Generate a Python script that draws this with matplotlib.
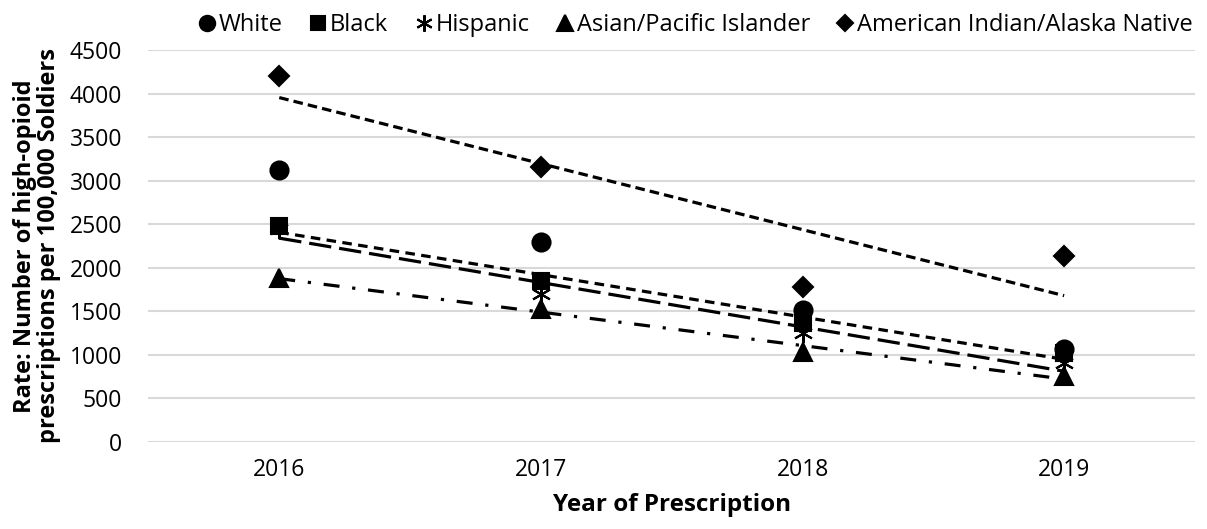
import numpy as np
import matplotlib.pyplot as plt

plt.rcParams['font.family'] = ['Open Sans', 'DejaVu Sans']

years = [2016, 2017, 2018, 2019]
white = [3120, 2300, 1510, 1070]
black = [2480, 1848, 1360, 1020]
hispanic = [2450, 1700, 1250, 900]
asian_pi = [1880, 1520, 1030, 760]
aian = [4200, 3160, 1780, 2130]

fig, ax = plt.subplots(figsize=(12.07, 5.29), dpi=100)
fig.subplots_adjust(left=0.123, right=0.99, top=0.905, bottom=0.165)

x = np.arange(len(years))
series = [
    ('White', white, 'o', 13, None),
    ('Black', black, 's', 12, (0, (3, 2))),
    ('Hispanic', hispanic, (6, 2, 0), 14, (0, (7, 2.5))),
    ('Asian/Pacific Islander', asian_pi, '^', 13, (0, (5, 4, 1, 4))),
    ('American Indian/Alaska Native', aian, 'D', 10, (0, (3, 1.6))),
]

for name, vals, mk, ms, ls in series:
    ax.plot(x, vals, linestyle='none', marker=mk, markersize=ms, color='black',
            markeredgewidth=1.5, label=name, zorder=4)
    if ls is not None:
        # linear trendline over the four years
        m, b = np.polyfit(x, vals, 1)
        ax.plot(x, m * x + b, linestyle=ls, color='black', linewidth=2.3, zorder=3)

ax.set_xlim(-0.5, 3.5)
ax.set_ylim(0, 4500)
ax.set_yticks(np.arange(0, 4501, 500))
ax.set_xticks(x)
ax.set_xticklabels([str(y) for y in years])
ax.grid(axis='y', color='#d9d9d9', linewidth=1.5, zorder=0)
ax.set_axisbelow(True)
for s in ax.spines.values():
    s.set_visible(False)
ax.tick_params(axis='y', length=0, labelsize=16.5, pad=19)
ax.tick_params(axis='x', length=0, labelsize=16.5, pad=12)

ax.set_ylabel('Rate: Number of high-opioid\nprescriptions per 100,000 Soldiers',
              fontsize=17, fontweight='bold', linespacing=1.0, labelpad=6)
ax.set_xlabel('Year of Prescription', fontsize=17.5, fontweight='bold', labelpad=8)

fig.legend(loc='upper center', bbox_to_anchor=(0.575, 1.015), ncol=5, frameon=False,
           fontsize=17, handletextpad=0.0, columnspacing=1.0, handlelength=1.0,
           markerscale=0.85)

fig.savefig('out.png', dpi=100)
